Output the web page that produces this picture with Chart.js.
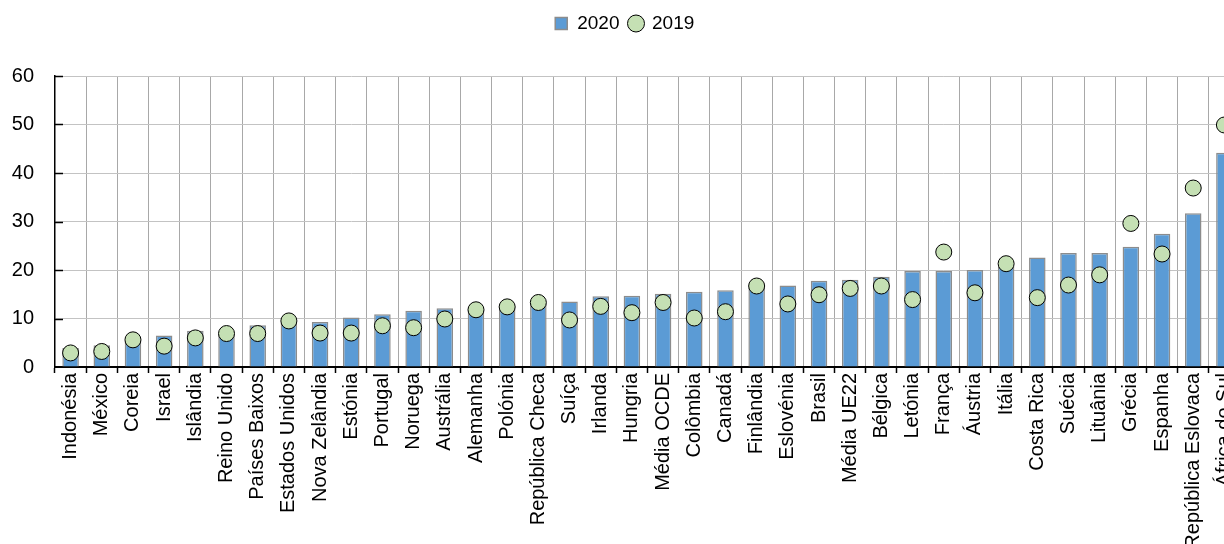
<!DOCTYPE html>
<html>
<head>
<meta charset="utf-8">
<script src="https://cdn.jsdelivr.net/npm/chart.js@4/dist/chart.umd.min.js"></script>
<style>
  html, body { margin: 0; padding: 0; overflow: hidden; background: #fff; }
  #wrap { width: 1249px; height: 580px; }
</style>
</head>
<body>
<div id="wrap"><canvas id="c" width="1249" height="580"></canvas></div>
<script>
const categories = [
  'Indonésia', 'México', 'Coreia', 'Israel', 'Islândia', 'Reino Unido', 'Países Baixos',
  'Estados Unidos', 'Nova Zelândia', 'Estónia', 'Portugal', 'Noruega', 'Austrália',
  'Alemanha', 'Polónia', 'República Checa', 'Suíça', 'Irlanda', 'Hungria', 'Média OCDE',
  'Colômbia', 'Canadá', 'Finlândia', 'Eslovénia', 'Brasil', 'Média UE22', 'Bélgica',
  'Letónia', 'França', 'Áustria', 'Itália', 'Costa Rica', 'Suécia', 'Lituânia', 'Grécia',
  'Espanha', 'República Eslovaca', 'África do Sul'
];
const values2020 = [
  3.9, 4.5, 5.4, 6.5, 7.5, 6.9, 8.6, 9.0, 9.3, 10.2, 10.9, 11.6, 12.1,
  12.0, 12.6, 13.1, 13.5, 14.6, 14.7, 15.1, 15.5, 15.8, 16.4, 16.8, 17.8, 18.0,
  18.6, 19.8, 19.8, 20.0, 20.7, 22.6, 23.5, 23.5, 24.8, 27.5, 31.7, 44.2
];
const values2019 = [
  2.9, 3.2, 5.6, 4.3, 6.0, 6.9, 6.9, 9.5, 7.0, 7.0, 8.5, 8.1, 9.9,
  11.8, 12.4, 13.3, 9.7, 12.5, 11.2, 13.3, 10.1, 11.4, 16.7, 13.0, 14.9, 16.2,
  16.7, 13.9, 23.7, 15.3, 21.3, 14.3, 16.9, 19.0, 29.6, 23.3, 36.9, 49.9
];
const seriesNames = ['2020', '2019'];
const yTicks = [0, 10, 20, 30, 40, 50, 60];

const BAR_FILL = '#5B9BD5';
const BAR_EDGE = '#8C8C8C';
const DOT_FILL = '#C5E0B4';
const FONT = 'Liberation Sans, Arial, sans-serif';

// Legend gets extra height so the plot starts lower on the canvas
const legendSpacer = {
  id: 'legendSpacer',
  beforeInit(chart) {
    const fit = chart.legend.fit;
    chart.legend.fit = function () {
      fit.call(this);
      this.height = 72;
    };
  }
};

// Short inward tick marks on the value axis
const innerTicks = {
  id: 'innerTicks',
  afterDraw(chart) {
    const { ctx, chartArea } = chart;
    const y = chart.scales.y;
    ctx.save();
    ctx.strokeStyle = '#000';
    ctx.lineWidth = 1.5;
    yTicks.forEach(v => {
      if (v === 0) return;
      const py = Math.round(y.getPixelForValue(v)) + 0.5;
      ctx.beginPath();
      ctx.moveTo(chartArea.left, py);
      ctx.lineTo(chartArea.left + 8, py);
      ctx.stroke();
    });
    ctx.restore();
  }
};

new Chart(document.getElementById('c'), {
  data: {
    labels: categories,
    datasets: [
      {
        type: 'bar',
        label: seriesNames[0],
        data: values2020,
        backgroundColor: BAR_FILL,
        borderColor: BAR_EDGE,
        borderWidth: 1.5,
        borderSkipped: 'bottom',
        barPercentage: 0.53,
        categoryPercentage: 1.0,
        order: 1
      },
      {
        type: 'line',
        label: seriesNames[1],
        data: values2019,
        showLine: false,
        pointStyle: 'circle',
        pointRadius: 8,
        pointHoverRadius: 8,
        pointBackgroundColor: DOT_FILL,
        pointBorderColor: '#000',
        pointBorderWidth: 1,
        order: 0
      }
    ]
  },
  options: {
    responsive: false,
    animation: false,
    devicePixelRatio: 1,
    layout: { padding: { top: 4, right: 0, left: 0, bottom: 0 } },
    plugins: {
      tooltip: { enabled: false },
      legend: {
        position: 'top',
        align: 'center',
        labels: {
          usePointStyle: true,
          boxWidth: 13,
          boxHeight: 12,
          padding: 10,
          color: '#000',
          font: { family: FONT, size: 19 },
          generateLabels() {
            return [
              { text: seriesNames[0], fillStyle: BAR_FILL, strokeStyle: BAR_EDGE,
                lineWidth: 1.5, pointStyle: 'rect', datasetIndex: 0, hidden: false, fontColor: '#000' },
              { text: seriesNames[1], fillStyle: DOT_FILL, strokeStyle: '#000',
                lineWidth: 1, pointStyle: 'circle', datasetIndex: 1, hidden: false, fontColor: '#000' }
            ];
          }
        }
      }
    },
    scales: {
      x: {
        type: 'category',
        offset: true,
        afterFit(scale) { scale.height = 213; },
        grid: {
          offset: true,
          color: '#A8A8A8',
          lineWidth: 1,
          drawTicks: true,
          tickLength: 6,
          tickColor: '#000',
          tickWidth: 1.5
        },
        border: { display: true, color: '#000', width: 2 },
        ticks: {
          autoSkip: false,
          minRotation: 90,
          maxRotation: 90,
          padding: 0,
          color: '#000',
          font: { family: FONT, size: 20 }
        }
      },
      y: {
        min: 0,
        max: 60,
        afterFit(scale) { scale.width = 55; },
        afterBuildTicks(scale) { scale.ticks = yTicks.map(v => ({ value: v })); },
        grid: {
          color: '#C3C3C3',
          lineWidth: 1,
          drawTicks: false
        },
        border: { display: true, color: '#000', width: 1.5 },
        ticks: {
          padding: 21,
          color: '#000',
          font: { family: FONT, size: 20 }
        }
      }
    }
  },
  plugins: [legendSpacer, innerTicks]
});
</script>
</body>
</html>
